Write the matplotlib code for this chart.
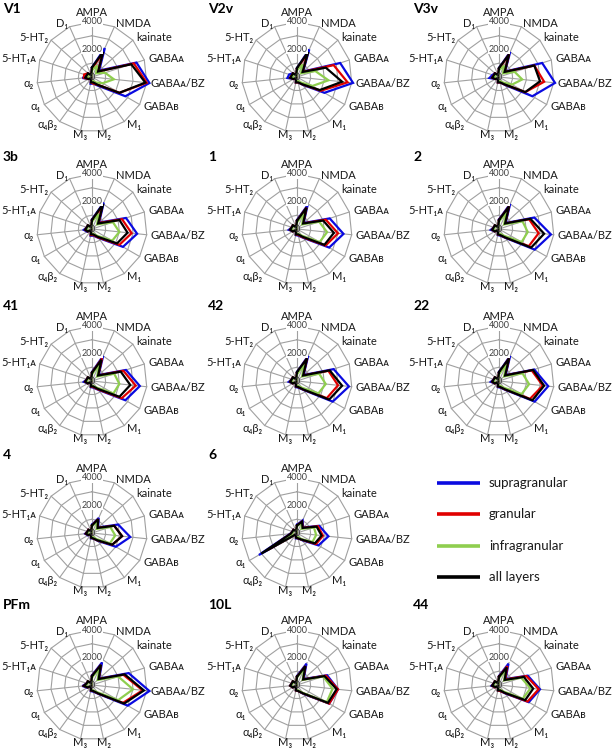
import numpy as np
import matplotlib
matplotlib.use("Agg")
import matplotlib.pyplot as plt

plt.rcParams['font.family'] = ['Lato', 'DejaVu Sans']

# --- dados ---
receptors = ["AMPA", "NMDA", "kainate", "GABAᴀ", "GABAᴀ/BZ", "GABAʙ", "M₁", "M₂", "M₃",
             "α₄β₂", "α₁", "α₂", "5-HT₁ᴀ", "5-HT₂", "D₁"]
ring_values = [1000, 2000, 3000, 4000]
tick_values = [0, 2000, 4000]
layers = ["supragranular", "granular", "infragranular", "all layers"]
layer_colors = ["#0a0ae0", "#e00000", "#8fce4f", "#000000"]

v1_supra = [700, 2300, 700, 3400, 4200, 2800, 800, 500, 500, 100, 300, 700, 400, 400, 150]
v1_gran = [600, 1900, 600, 3200, 4000, 2300, 700, 500, 400, 100, 300, 600, 600, 400, 150]
v1_infra = [500, 900, 400, 1000, 1600, 900, 500, 300, 300, 100, 200, 300, 300, 300, 100]
v1_all = [700, 2000, 600, 3000, 3900, 2300, 700, 400, 400, 100, 300, 500, 400, 400, 150]

v2v_supra = [650, 2200, 600, 3300, 4100, 2300, 700, 400, 400, 100, 300, 700, 600, 400, 150]
v2v_gran = [600, 1900, 550, 2800, 3700, 2000, 650, 400, 400, 100, 300, 500, 400, 400, 150]
v2v_infra = [500, 1000, 400, 1400, 2300, 1300, 500, 300, 300, 100, 250, 300, 300, 300, 100]
v2v_all = [650, 2000, 550, 2200, 3300, 1900, 650, 400, 400, 100, 300, 500, 400, 400, 150]

v3v_supra = [650, 2000, 600, 3300, 4100, 2800, 700, 400, 400, 100, 300, 700, 500, 400, 150]
v3v_gran = [600, 1800, 550, 2700, 3300, 2200, 650, 400, 400, 100, 300, 500, 400, 400, 150]
v3v_infra = [500, 900, 400, 1200, 1700, 1100, 500, 300, 300, 100, 250, 300, 300, 300, 100]
v3v_all = [650, 1800, 550, 2700, 3000, 2200, 650, 400, 400, 100, 300, 500, 400, 400, 150]

a3b_supra = [700, 2100, 700, 2600, 3300, 2600, 800, 500, 500, 100, 400, 600, 400, 400, 150]
a3b_gran = [650, 1800, 650, 2300, 2900, 2300, 750, 450, 450, 100, 350, 500, 400, 400, 150]
a3b_infra = [550, 1200, 500, 1600, 2000, 1700, 600, 350, 350, 100, 300, 400, 350, 350, 100]
a3b_all = [650, 2000, 600, 2100, 2600, 2100, 700, 400, 400, 100, 350, 500, 400, 400, 150]

a1_supra = [650, 1900, 650, 2500, 3400, 2700, 800, 500, 450, 100, 350, 600, 400, 400, 150]
a1_gran = [600, 1700, 600, 2200, 3000, 2400, 750, 450, 400, 100, 350, 500, 400, 400, 150]
a1_infra = [500, 1200, 500, 1700, 2200, 1900, 600, 350, 350, 100, 300, 400, 350, 350, 100]
a1_all = [600, 1700, 600, 2000, 2700, 2300, 700, 400, 400, 100, 350, 500, 400, 400, 150]

a2_supra = [700, 2000, 650, 2700, 3800, 3000, 800, 500, 450, 100, 350, 600, 400, 400, 150]
a2_gran = [650, 1800, 600, 2300, 2900, 2500, 750, 450, 400, 100, 350, 500, 400, 400, 150]
a2_infra = [550, 1300, 500, 1800, 2100, 1900, 600, 350, 350, 100, 300, 400, 350, 350, 100]
a2_all = [650, 1800, 600, 2400, 3300, 2700, 750, 450, 400, 100, 350, 500, 400, 400, 150]

a41_supra = [650, 2000, 650, 2600, 3500, 2800, 800, 500, 450, 100, 350, 600, 400, 400, 150]
a41_gran = [600, 1800, 600, 2400, 3200, 2500, 750, 450, 400, 100, 350, 500, 400, 400, 150]
a41_infra = [500, 1300, 500, 1700, 2000, 1800, 600, 350, 350, 100, 300, 400, 350, 350, 100]
a41_all = [600, 1700, 600, 2200, 2800, 2300, 700, 400, 400, 100, 350, 500, 400, 400, 150]

a42_supra = [650, 2000, 650, 2800, 3800, 3000, 800, 500, 450, 100, 350, 600, 400, 400, 150]
a42_gran = [600, 1800, 600, 2400, 3000, 2500, 750, 450, 400, 100, 350, 500, 400, 400, 150]
a42_infra = [500, 1300, 500, 1700, 2100, 1800, 600, 350, 350, 100, 300, 400, 350, 350, 100]
a42_all = [650, 1800, 600, 2500, 3300, 2700, 750, 450, 400, 100, 350, 500, 400, 400, 150]

a22_supra = [650, 2000, 650, 2700, 3600, 3000, 800, 500, 450, 100, 350, 600, 400, 400, 150]
a22_gran = [600, 1800, 600, 2500, 3200, 2600, 750, 450, 400, 100, 350, 500, 400, 400, 150]
a22_infra = [500, 1300, 500, 1800, 2200, 1900, 600, 350, 350, 100, 300, 400, 350, 350, 100]
a22_all = [650, 1800, 600, 2600, 3300, 2800, 750, 450, 400, 100, 350, 500, 400, 400, 150]

a4_supra = [600, 1200, 600, 2000, 2800, 2000, 700, 400, 400, 100, 350, 500, 350, 350, 150]
a4_gran = [550, 1100, 550, 1700, 2200, 1700, 650, 400, 350, 100, 300, 450, 350, 350, 150]
a4_infra = [500, 900, 450, 1400, 1700, 1500, 550, 300, 300, 100, 250, 350, 300, 300, 100]
a4_all = [550, 1100, 550, 1700, 2200, 1700, 650, 400, 350, 100, 300, 450, 350, 350, 150]

a6_supra = [600, 1000, 600, 1700, 2300, 1800, 650, 400, 400, 100, 3200, 500, 350, 350, 150]
a6_gran = [550, 900, 550, 1600, 1900, 1600, 600, 400, 350, 100, 2500, 450, 350, 350, 150]
a6_infra = [500, 800, 450, 1300, 1400, 1300, 550, 300, 300, 100, 1800, 350, 300, 300, 100]
a6_all = [550, 900, 550, 1500, 1800, 1500, 600, 400, 350, 100, 3000, 450, 350, 350, 150]

pfm_supra = [700, 1800, 700, 2800, 4200, 3000, 800, 500, 450, 100, 400, 700, 400, 400, 150]
pfm_gran = [650, 1600, 650, 2400, 3700, 2600, 750, 450, 400, 100, 350, 600, 400, 400, 150]
pfm_infra = [550, 1300, 550, 2000, 3000, 2200, 650, 400, 350, 100, 300, 500, 350, 350, 100]
pfm_all = [650, 1600, 650, 2500, 3800, 2700, 750, 450, 400, 100, 350, 600, 400, 400, 150]

a10l_supra = [650, 1700, 650, 2300, 3000, 2700, 800, 450, 400, 100, 350, 500, 400, 400, 150]
a10l_gran = [600, 1500, 600, 2200, 3000, 2700, 750, 450, 400, 100, 350, 500, 400, 400, 150]
a10l_infra = [550, 1300, 550, 2000, 2600, 2500, 700, 400, 350, 100, 300, 450, 350, 350, 100]
a10l_all = [600, 1500, 600, 2100, 2900, 2600, 750, 450, 400, 100, 350, 500, 400, 400, 150]

a44_supra = [650, 1700, 650, 2200, 3000, 2500, 750, 450, 400, 100, 350, 550, 400, 400, 150]
a44_gran = [600, 1500, 600, 2100, 2900, 2400, 700, 450, 400, 100, 350, 500, 400, 400, 150]
a44_infra = [500, 1200, 500, 1700, 2300, 2000, 600, 350, 350, 100, 300, 400, 350, 350, 100]
a44_all = [600, 1400, 550, 1900, 2500, 2200, 700, 400, 400, 100, 300, 500, 400, 400, 150]

area_names = ["V1", "V2v", "V3v", "3b", "1", "2", "41", "42", "22", "4", "6", "PFm", "10L", "44"]
area_data = [
    [v1_supra, v1_gran, v1_infra, v1_all],
    [v2v_supra, v2v_gran, v2v_infra, v2v_all],
    [v3v_supra, v3v_gran, v3v_infra, v3v_all],
    [a3b_supra, a3b_gran, a3b_infra, a3b_all],
    [a1_supra, a1_gran, a1_infra, a1_all],
    [a2_supra, a2_gran, a2_infra, a2_all],
    [a41_supra, a41_gran, a41_infra, a41_all],
    [a42_supra, a42_gran, a42_infra, a42_all],
    [a22_supra, a22_gran, a22_infra, a22_all],
    [a4_supra, a4_gran, a4_infra, a4_all],
    [a6_supra, a6_gran, a6_infra, a6_all],
    [pfm_supra, pfm_gran, pfm_infra, pfm_all],
    [a10l_supra, a10l_gran, a10l_infra, a10l_all],
    [a44_supra, a44_gran, a44_infra, a44_all],
]
# posicao (linha, coluna) de cada painel; a legenda fica em (3, 2)
area_cells = [(0, 0), (0, 1), (0, 2), (1, 0), (1, 1), (1, 2), (2, 0), (2, 1), (2, 2),
              (3, 0), (3, 1), (4, 0), (4, 1), (4, 2)]

# --- layout em pixels ---
W, H = 615, 748
col_x = [92, 297, 499]
row_y = [77, 229, 381, 533, 685]
title_x = [3, 208, 413]
title_y = [9, 157, 306, 455, 605]
R_PX = 55.0
RMAX = 4000.0
k = RMAX / R_PX  # unidades por pixel
grid_col = "#a0a0a0"

fig = plt.figure(figsize=(W / 100, H / 100), dpi=100)

theta = 2 * np.pi * np.arange(len(receptors)) / len(receptors)
sx, cy_ = np.sin(theta), np.cos(theta)


def radar(cx, cy, series):
    ax = fig.add_axes([(cx - 100) / W, 1 - (cy + 75) / H, 200 / W, 150 / H])
    ax.set_xlim(-100 * k, 100 * k)
    ax.set_ylim(-75 * k, 75 * k)
    ax.axis("off")
    # grade poligonal estilo Excel
    for rv in ring_values:
        ax.plot(np.append(rv * sx, rv * sx[0]), np.append(rv * cy_, rv * cy_[0]),
                color=grid_col, lw=0.8, zorder=1)
    for s, c in zip(sx, cy_):
        ax.plot([0, RMAX * s], [0, RMAX * c], color=grid_col, lw=0.8, zorder=1)
    # series
    for vals, col in zip(series, layer_colors):
        v = np.array(vals, dtype=float)
        ax.plot(np.append(v * sx, v[0] * sx[0]), np.append(v * cy_, v[0] * cy_[0]),
                color=col, lw=1.6, zorder=3, solid_joinstyle="miter")
    # valores do eixo
    for tv in tick_values:
        ax.text(0, tv, str(tv), ha="center", va="center", fontsize=6.5, color="#404040",
                zorder=4, bbox=dict(facecolor="white", edgecolor="none", pad=0.2) if tv > 0 else None)
    # rotulos dos receptores
    for name, s, c in zip(receptors, sx, cy_):
        if s > 0.3:
            ha = "left"
        elif s < -0.3:
            ha = "right"
        else:
            ha = "center"
        r = 65 * k if c > 0.95 else 59 * k
        ax.text(r * s, r * c, name, ha=ha, va="center", fontsize=8, color="#1a1a1a")


for name, data, (ri, ci) in zip(area_names, area_data, area_cells):
    radar(col_x[ci], row_y[ri], data)
    fig.text(title_x[ci] / W, 1 - title_y[ri] / H, name, ha="left", va="center",
             fontsize=10, fontweight="bold")

# legenda
lax = fig.add_axes([0, 0, 1, 1])
lax.set_xlim(0, W)
lax.set_ylim(H, 0)
lax.axis("off")
leg_y = [483, 514, 546, 577]
for lab, col, yy in zip(layers, layer_colors, leg_y):
    lax.plot([437, 480], [yy, yy], color=col, lw=2.6, solid_capstyle="butt")
    lax.text(489, yy, lab, ha="left", va="center", fontsize=9.5, color="#1a1a1a")

fig.savefig("out.png", dpi=100)
